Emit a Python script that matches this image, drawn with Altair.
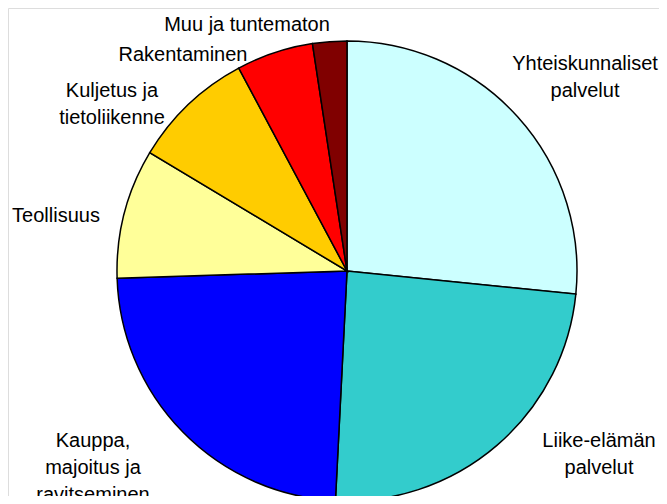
import altair as alt
import pandas as pd

categories = [
    "Yhteiskunnaliset palvelut",
    "Liike-elämän palvelut",
    "Kauppa, majoitus ja ravitseminen",
    "Teollisuus",
    "Kuljetus ja tietoliikenne",
    "Rakentaminen",
    "Muu ja tuntematon",
]
values = [26.6, 24.2, 23.7, 9.1, 8.6, 5.4, 2.4]
colors = ["#CCFFFF", "#33CCCC", "#0000FF", "#FFFF99", "#FFCC00", "#FF0000", "#800000"]

label_texts = [
    "Yhteiskunnaliset\npalvelut",
    "Liike-elämän\npalvelut",
    "Kauppa,\nmajoitus ja\nravitseminen",
    "Teollisuus",
    "Kuljetus ja\ntietoliikenne",
    "Rakentaminen",
    "Muu ja tuntematon",
]
# label anchor layout (chart pixels: center x, first baseline y)
label_x = [577, 591, 85, 48, 104, 175, 239]
label_y = [62, 439, 439, 214, 89, 53, 23]

pie_df = pd.DataFrame({"category": categories, "value": values, "idx": list(range(len(categories)))})
lab_df = pd.DataFrame({"label": label_texts, "lx": label_x, "ly": label_y})

pie = alt.Chart(pie_df).mark_arc(radius=230, stroke="black", strokeWidth=1.5).encode(
    theta=alt.Theta("value:Q", stack=True),
    color=alt.Color("category:N", scale=alt.Scale(domain=categories, range=colors), legend=None),
    order=alt.Order("idx:Q"),
    x=alt.value(339),
    y=alt.value(263),
)

labels = alt.Chart(lab_df).mark_text(
    font="Liberation Sans", fontSize=20, lineBreak="\n", lineHeight=27,
    align="center", baseline="alphabetic", color="black",
).encode(
    x=alt.X("lx:Q", scale=None, axis=None),
    y=alt.Y("ly:Q", scale=None, axis=None),
    text="label:N",
)

chart = alt.layer(pie, labels).properties(
    width=651, height=488, autosize=alt.AutoSizeParams(type="none"), padding=0
).configure_view(stroke=None).configure(background="white")

chart.save("out.html", embed_options={"renderer": "svg", "actions": False})
